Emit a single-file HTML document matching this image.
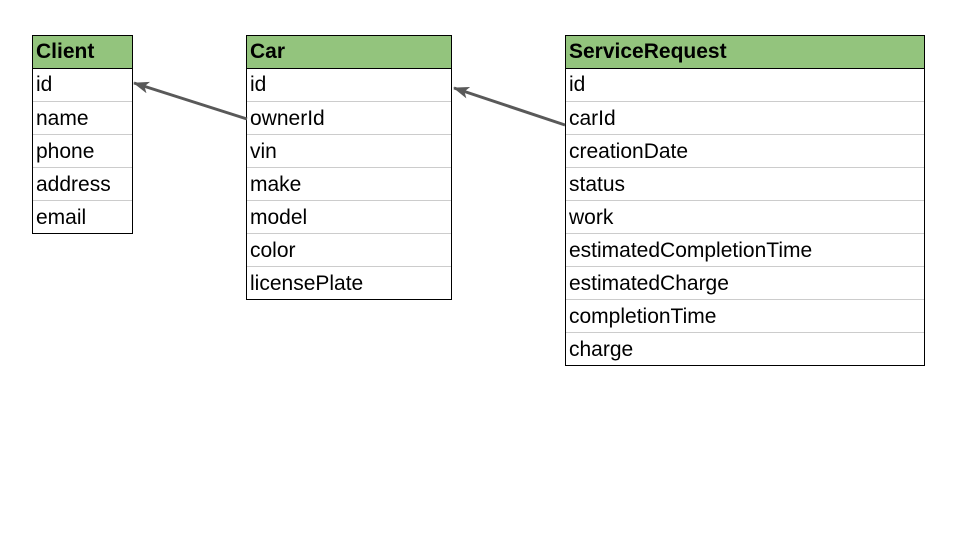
<!DOCTYPE html>
<html><head><style>
body{margin:0;width:960px;height:540px;background:#fff;position:relative;overflow:hidden;font-family:"Liberation Sans",Arial,sans-serif}
.t{position:absolute;border:1px solid #000;box-sizing:border-box}
.r{height:33px;line-height:33px;font-size:21px;padding-left:3px;border-top:1px solid #ccc;box-sizing:border-box;color:#000;white-space:nowrap}
.h{background:#93c47d;font-weight:bold;border-top:none;border-bottom:1px solid #000;height:33px;line-height:31px}
.h+.r{border-top:none;height:32px;line-height:32px}
svg{position:absolute;left:0;top:0}
</style></head><body>
<div class="t" style="left:32px;top:35px;width:101px">
<div class="r h">Client</div><div class="r">id</div><div class="r">name</div><div class="r">phone</div><div class="r">address</div><div class="r">email</div>
</div>
<div class="t" style="left:246px;top:35px;width:206px">
<div class="r h">Car</div><div class="r">id</div><div class="r">ownerId</div><div class="r">vin</div><div class="r">make</div><div class="r">model</div><div class="r">color</div><div class="r">licensePlate</div>
</div>
<div class="t" style="left:565px;top:35px;width:360px">
<div class="r h">ServiceRequest</div><div class="r">id</div><div class="r">carId</div><div class="r">creationDate</div><div class="r">status</div><div class="r">work</div><div class="r">estimatedCompletionTime</div><div class="r">estimatedCharge</div><div class="r">completionTime</div><div class="r">charge</div>
</div>
<svg width="960" height="540">
<defs><marker id="a" markerWidth="16" markerHeight="12" refX="15" refY="6" orient="auto" markerUnits="userSpaceOnUse"><path d="M0,0 L16,6 L0,12 L4,6 Z" fill="#595959"/></marker></defs>
<line x1="247" y1="119" x2="134" y2="83" stroke="#595959" stroke-width="3" marker-end="url(#a)"/>
<line x1="565" y1="125" x2="454" y2="88" stroke="#595959" stroke-width="3" marker-end="url(#a)"/>
</svg>
</body></html>
